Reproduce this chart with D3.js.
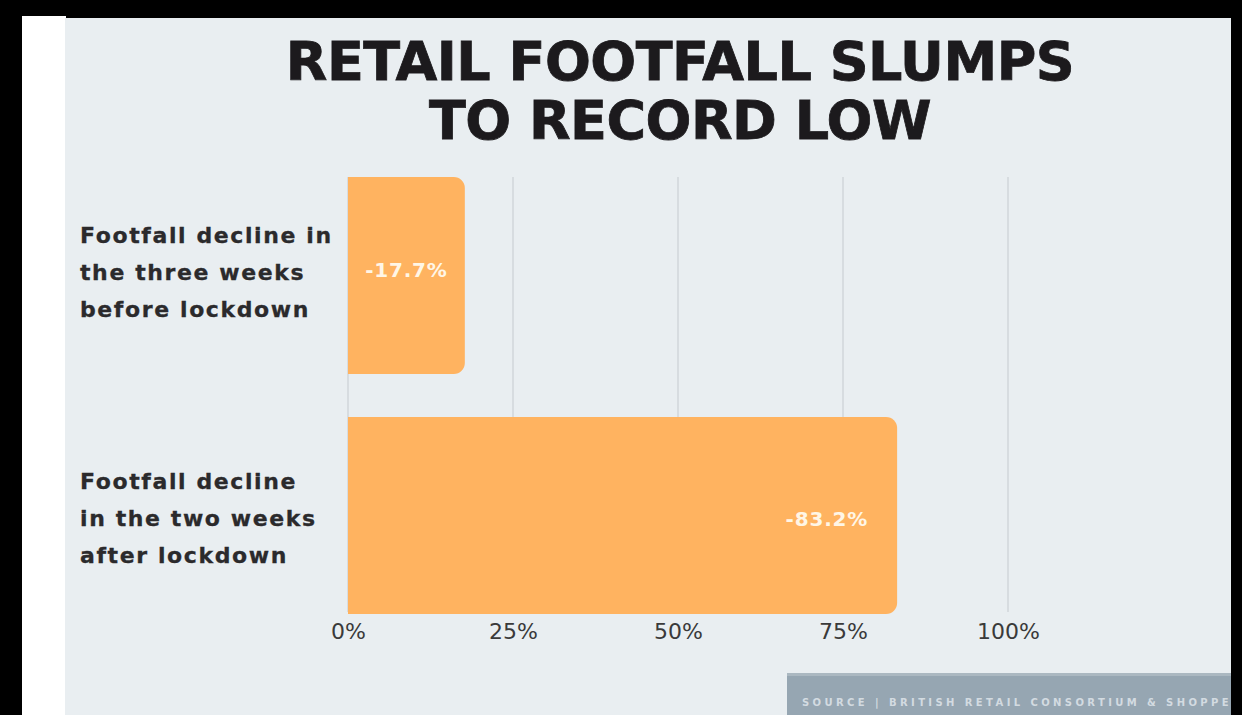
<!DOCTYPE html>
<html>
<head>
<meta charset="utf-8">
<script src="https://cdn.jsdelivr.net/npm/d3@7"></script>
<style>
  html, body { margin: 0; padding: 0; background: #000; }
  svg { display: block; }
</style>
</head>
<body>
<div id="chart_container"></div>
<script>
// chart data
const titleLines = ["RETAIL FOOTFALL SLUMPS", "TO RECORD LOW"];
const categories = ["before", "after"];
const categoryLines = [
    ["Footfall decline in", "the three weeks", "before lockdown"],
    ["Footfall decline", "in the two weeks", "after lockdown"]
];
const declines = [17.7, 83.2];
const valueLabels = ["-17.7%", "-83.2%"];
const tickValues = [0, 25, 50, 75, 100];
const tickLabels = ["0%", "25%", "50%", "75%", "100%"];
const sourceText = "SOURCE | BRITISH RETAIL CONSORTIUM & SHOPPERTRAK";

const w = 1242;
const h = 715;
const barColor = "#ffb360";

const svg = d3.select("#chart_container").append("svg")
    .attr("width", w)
    .attr("height", h);

// background: black page, white strip, light panel
svg.append("rect").attr("width", w).attr("height", h).attr("fill", "#000");
svg.append("rect").attr("x", 22).attr("y", 16).attr("width", 44).attr("height", h - 16).attr("fill", "#ffffff");
svg.append("rect").attr("x", 65).attr("y", 18).attr("width", 1166).attr("height", h - 18).attr("fill", "#e9eef1");

// title
svg.append("g").selectAll("text")
    .data(titleLines)
    .enter()
    .append("text")
    .attr("x", 680)
    .attr("y", (d, i) => 80 + i * 59)
    .attr("text-anchor", "middle")
    .attr("font-family", "DejaVu Sans")
    .attr("font-weight", "bold")
    .attr("font-size", 54)
    .attr("letter-spacing", -0.5)
    .attr("fill", "#1c1a1d")
    .attr("stroke", "#1c1a1d")
    .attr("stroke-width", 0.8)
    .text(d => d);

// scales
const xScale = d3.scaleLinear()
    .domain([0, 100])
    .range([348, 1008]);

const yScale = d3.scaleBand()
    .domain(categories)
    .range([177, 614])
    .paddingInner(0.179)
    .paddingOuter(0);

// gridlines
svg.append("g").selectAll("line")
    .data(tickValues)
    .enter()
    .append("line")
    .attr("x1", d => xScale(d))
    .attr("x2", d => xScale(d))
    .attr("y1", 177)
    .attr("y2", 612)
    .attr("stroke", "#d7dce0")
    .attr("stroke-width", 2);

// x axis labels
const xAxis = d3.axisBottom(xScale)
    .tickValues(tickValues)
    .tickFormat((d, i) => tickLabels[i])
    .tickSize(0)
    .tickPadding(9);

const axisG = svg.append("g")
    .attr("transform", "translate(0,614)")
    .call(xAxis);
axisG.select(".domain").remove();
axisG.selectAll("text")
    .attr("font-family", "DejaVu Sans")
    .attr("font-size", 22)
    .attr("fill", "#3a3a3a");

// bars with rounded right end
const r = 11;
function barPath(v, cat) {
    const x0 = xScale(0), x1 = xScale(v);
    const y0 = yScale(cat), y1 = y0 + yScale.bandwidth();
    const p = d3.path();
    p.moveTo(x0, y0);
    p.lineTo(x1 - r, y0);
    p.arcTo(x1, y0, x1, y0 + r, r);
    p.lineTo(x1, y1 - r);
    p.arcTo(x1, y1, x1 - r, y1, r);
    p.lineTo(x0, y1);
    p.closePath();
    return p.toString();
}

svg.append("g").selectAll("path")
    .data(declines)
    .enter()
    .append("path")
    .attr("d", (d, i) => barPath(d, categories[i]))
    .attr("fill", barColor);

// value labels: first centred in the bar, second inside the end
const valueShift = [1.5, 10.5];
svg.append("g").selectAll("text")
    .data(declines)
    .enter()
    .append("text")
    .attr("x", (d, i) => i === 0 ? (xScale(0) + xScale(d)) / 2 : xScale(d) - 29)
    .attr("y", (d, i) => yScale(categories[i]) + yScale.bandwidth() / 2 + valueShift[i])
    .attr("text-anchor", (d, i) => i === 0 ? "middle" : "end")
    .attr("font-family", "DejaVu Sans")
    .attr("font-weight", "bold")
    .attr("font-size", 20)
    .attr("letter-spacing", 0.8)
    .attr("fill", "#fff6e6")
    .text((d, i) => valueLabels[i]);

// category labels
const labelShift = [4, 10.5];
const catG = svg.append("g").selectAll("text")
    .data(categories)
    .enter()
    .append("text")
    .attr("font-family", "DejaVu Sans")
    .attr("font-weight", "bold")
    .attr("font-size", 22)
    .attr("letter-spacing", 1.6)
    .attr("fill", "#2b2a2c")
    .attr("stroke", "#2b2a2c")
    .attr("stroke-width", 0.3);

catG.selectAll("tspan")
    .data((d, i) => categoryLines[i].map(t => ({t: t, i: i, cat: d})))
    .enter()
    .append("tspan")
    .attr("x", 80)
    .attr("y", (d, j) => yScale(d.cat) + yScale.bandwidth() / 2 + labelShift[d.i] + (j - 1) * 37)
    .text(d => d.t);

// source box (text runs off the right edge, as in the original)
const clip = svg.append("clipPath").attr("id", "srcclip");
clip.append("rect").attr("x", 787).attr("y", 672).attr("width", 444).attr("height", 43);
const srcG = svg.append("g").attr("clip-path", "url(#srcclip)");
srcG.append("rect").attr("x", 787).attr("y", 673).attr("width", 444).attr("height", 42).attr("fill", "#96a6b2");
srcG.append("rect").attr("x", 787).attr("y", 673).attr("width", 444).attr("height", 3).attr("fill", "#abb8c1");
srcG.append("text")
    .attr("x", 802)
    .attr("y", 706)
    .attr("font-family", "DejaVu Sans")
    .attr("font-weight", "bold")
    .attr("font-size", 10)
    .attr("letter-spacing", 3.4)
    .attr("fill", "#d3dbe1")
    .text(sourceText);
</script>
</body>
</html>
